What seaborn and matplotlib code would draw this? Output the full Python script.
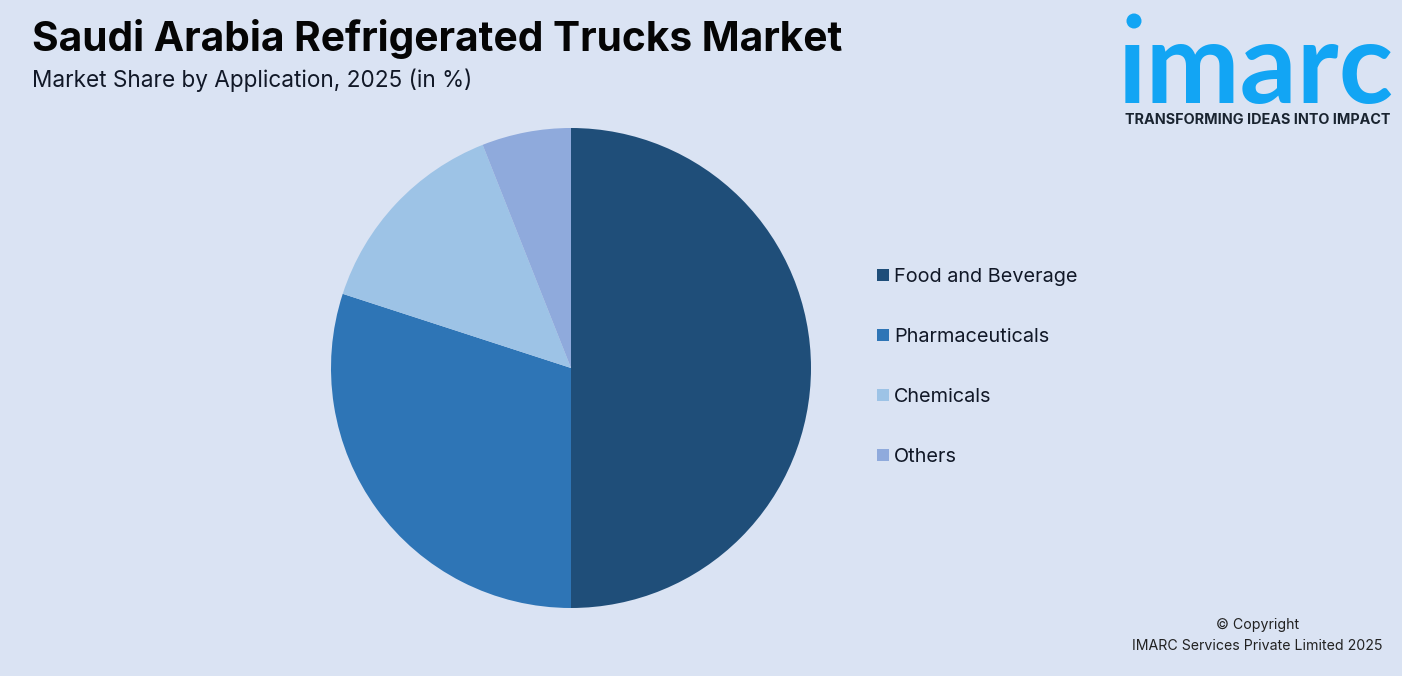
import matplotlib
matplotlib.use("Agg")
import matplotlib.pyplot as plt
from matplotlib.lines import Line2D
from matplotlib.patches import Circle
import seaborn as sns

categories = ["Food and Beverage", "Pharmaceuticals", "Chemicals", "Others"]
shares = [50, 30, 14, 6]
colors = ["#1F4E79", "#2E75B6", "#9DC3E6", "#8FAADC"]
title = "Saudi Arabia Refrigerated Trucks Market"
subtitle = "Market Share by Application, 2025 (in %)"
copyright_lines = ["© Copyright", "IMARC Services Private Limited 2025"]
BG = "#DAE3F3"
W, H = 1402, 676

sns.set_theme(style="white")
plt.rcParams["font.family"] = ["Inter", "DejaVu Sans"]
sns.set_palette(colors)

fig = plt.figure(figsize=(W / 100, H / 100), dpi=100, facecolor=BG)

# overlay in pixel coordinates for texts
ov = fig.add_axes([0, 0, 1, 1], facecolor="none")
ov.set_xlim(0, W)
ov.set_ylim(H, 0)
ov.axis("off")

# pie
cx, cy, r = 571, 368, 240
ax = fig.add_axes([(cx - r) / W, 1 - (cy + r) / H, 2 * r / W, 2 * r / H], facecolor="none")
wedges, _ = ax.pie(shares, colors=sns.color_palette(), startangle=90, counterclock=False,
                   radius=1, wedgeprops=dict(linewidth=0))
ax.set_xlim(-1, 1)
ax.set_ylim(-1, 1)

handles = [Line2D([], [], marker="s", linestyle="none", markersize=9,
                  markerfacecolor=c, markeredgewidth=0) for c in colors]
leg = fig.legend(handles, categories, loc="upper left",
                 bbox_to_anchor=(869 / W, 1 - 268 / H), frameon=False,
                 fontsize=14.3, labelcolor="#111827", labelspacing=2.11,
                 handletextpad=-0.15, handlelength=1.4, borderpad=0, borderaxespad=0)

ov.text(32, 39, title, fontsize=29.3, fontweight="bold", color="#050505", va="center", ha="left")
ov.text(32, 80, subtitle, fontsize=16.25, color="#111827", va="center", ha="left")
ov.text(1299, 625, copyright_lines[0], fontsize=10.2, color="#222222", va="center", ha="right")
ov.text(1383, 646.5, copyright_lines[1], fontsize=10.2, color="#222222", va="center", ha="right")

# logo
LOGO = "#12A5F4"
ov.add_patch(Circle((1134, 21), 7.5, color=LOGO, lw=0))
ov.text(1118, 103, "\u0131marc", fontsize=81, fontweight="bold", color=LOGO,
        family=["Lato", "DejaVu Sans"], va="baseline", ha="left")
ov.text(1257.5, 119.5, "TRANSFORMING IDEAS INTO IMPACT", fontsize=10.35, fontweight="bold",
        color="#1a2430", va="center", ha="center")

fig.savefig("out.png", dpi=100, facecolor=BG)
